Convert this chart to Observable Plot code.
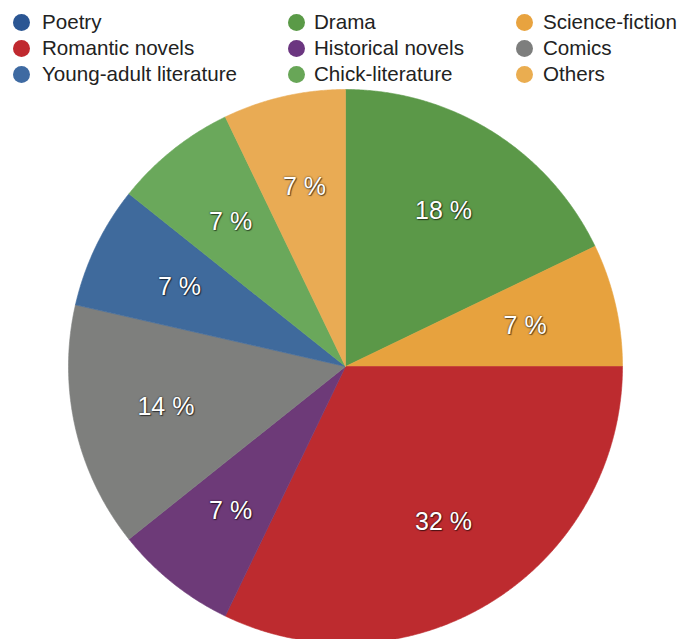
<!DOCTYPE html>
<html>
<head>
<meta charset="utf-8">
<script src="https://cdn.jsdelivr.net/npm/d3@7"></script>
<script src="https://cdn.jsdelivr.net/npm/@observablehq/plot@0.6"></script>
<style>
  html, body { margin: 0; padding: 0; background: #fff; }
  body { width: 680px; height: 639px; overflow: hidden; font-family: "Liberation Sans", Arial, Helvetica, sans-serif; }
  #legend { position: relative; height: 86px; }
  .item { position: absolute; font-size: 20.6px; color: #222; white-space: nowrap; line-height: 20px; }
  .item .dot { position: absolute; width: 17px; height: 17px; border-radius: 50%; top: 2px; }
  #chart svg text { text-shadow: 0 0 2px rgba(0,0,0,0.75), 1px 1px 1px rgba(0,0,0,0.5); }
</style>
</head>
<body>
<div id="legend"></div>
<div id="chart"></div>
<script>
// Legend order (column-major) and counts
const categories = ["Poetry", "Romantic novels", "Young-adult literature", "Drama", "Historical novels", "Chick-literature", "Science-fiction", "Comics", "Others"];
const counts     = [0, 9, 2, 5, 2, 2, 2, 4, 2];
const legendColors = ["#2b5693", "#c0292f", "#3e6aa2", "#5a9a47", "#6b3680", "#68a657", "#e8a33f", "#7d7e7d", "#eaad50"];
const sliceColors  = ["#2b5693", "#bd2b2f", "#3f6a9c", "#5b9848", "#6d3a78", "#6aa85b", "#e7a23e", "#7e7f7d", "#e9ab54"];
// Clockwise order of slices starting at 12 o'clock
const pieOrder = ["Poetry", "Drama", "Science-fiction", "Romantic novels", "Historical novels", "Comics", "Young-adult literature", "Chick-literature", "Others"];

// Legend
const legend = document.getElementById("legend");
const colX = [[21, 42], [296, 314], [524, 543]];
const rowY = [12, 38, 64];
categories.forEach((c, i) => {
  const col = Math.floor(i / 3), row = i % 3;
  const el = document.createElement("div");
  el.className = "item";
  el.style.left = colX[col][1] + "px";
  el.style.top = rowY[row] + "px";
  el.textContent = c;
  const dot = document.createElement("span");
  dot.className = "dot";
  dot.style.background = legendColors[i];
  dot.style.left = (colX[col][0] - colX[col][1] - 8.5) + "px";
  el.appendChild(dot);
  legend.appendChild(el);
});

// Pie geometry from the data
const rows = pieOrder.map(n => {
  const i = categories.indexOf(n);
  return {name: n, count: counts[i], color: sliceColors[i]};
});
const total = d3.sum(rows, d => d.count);
const arcs = d3.pie().sort(null).value(d => d.count)(rows).filter(a => a.data.count > 0);

const sliceMarks = arcs.map(a => {
  const pts = [{x: 0, y: 0}];
  const n = Math.max(2, Math.ceil((a.endAngle - a.startAngle) / 0.005));
  for (let k = 0; k <= n; k++) {
    const t = a.startAngle + (a.endAngle - a.startAngle) * k / n;
    pts.push({x: Math.sin(t), y: Math.cos(t)});
  }
  pts.push({x: 0, y: 0});
  return Plot.line(pts, {x: "x", y: "y", fill: a.data.color, stroke: a.data.color, strokeWidth: 0.6, curve: "linear"});
});

const labelR = 0.665;
const labels = arcs.map(a => {
  const m = (a.startAngle + a.endAngle) / 2;
  return {x: labelR * Math.sin(m), y: labelR * Math.cos(m), text: Math.round(a.data.count / total * 100) + " %"};
});

const chart = Plot.plot({
  width: 680,
  height: 560,
  marginLeft: 68,
  marginRight: 58,
  marginTop: 3,
  marginBottom: 3,
  x: {domain: [-1, 1], axis: null},
  y: {domain: [-1, 1], axis: null},
  style: {background: "transparent", overflow: "visible"},
  marks: [
    ...sliceMarks,
    Plot.text(labels, {x: "x", y: "y", text: "text", fill: "white", fontSize: 25, fontFamily: "Liberation Sans, Arial, sans-serif"})
  ]
});
document.getElementById("chart").appendChild(chart);
</script>
</body>
</html>
